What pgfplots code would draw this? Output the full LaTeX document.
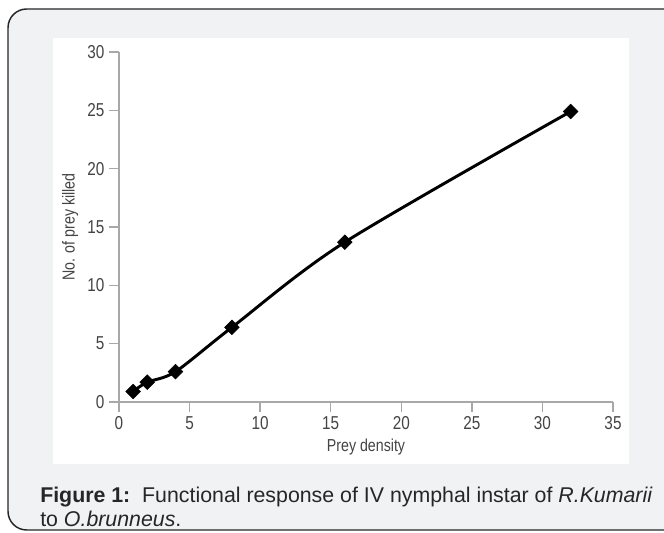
\documentclass[border=0pt]{standalone}
\usepackage{pgfplots}
\pgfplotsset{compat=1.18}
\usepackage{fontspec}
\setmainfont{Liberation Sans}
\newfontfamily\condfont[FakeStretch=0.82]{Liberation Sans}

\definecolor{panelgray}{HTML}{F1F2F4}
\definecolor{axisgray}{HTML}{A8A8A8}
\definecolor{labelgray}{HTML}{444444}

\begin{document}
\begin{tikzpicture}[x=0.75pt,y=0.75pt]
% frame of the figure box (1 unit = 1 px of the reference)
\path[use as bounding box] (0,0) rectangle (664,532);
\clip (0,0) rectangle (664,532);
\draw[fill=panelgray, draw=black!85, line width=1.1pt, rounded corners=14pt]
  (8,2) rectangle (690,523);
\fill[white] (53,68) rectangle (629,494);

\begin{axis}[
  at={(89.25pt,97.5pt)}, anchor=south west,
  scale only axis,
  width=370.5pt, height=262.5pt,
  xmin=0, xmax=35, ymin=0, ymax=30,
  xtick={0,5,...,35}, ytick={0,5,...,30},
  axis lines=left,
  axis line style={-, draw=axisgray, line width=1pt},
  tick style={draw=axisgray, line width=1pt},
  tick align=outside,
  major tick length=7.5pt,
  ticklabel style={font=\condfont\fontsize{14}{16}\selectfont, text=labelgray},
  /pgf/number format/assume math mode=true,
  xlabel={Prey density},
  ylabel={No. of prey killed},
  label style={font=\condfont\fontsize{13}{15}\selectfont, text=labelgray},
  clip=false,
]
\addplot[black, line width=2.2pt, smooth, mark=square*, mark size=3.9pt,
  mark options={solid, fill=black, rotate=45, line width=0.4pt}] coordinates {
  (1,0.9)(2,1.7)(4,2.6)(8,6.4)(16,13.7)(32,24.9)
};
\end{axis}

\node[anchor=north west, align=left, font=\fontsize{16}{18}\selectfont, text=black!85, inner sep=0pt]
  at (40,45) {\textbf{Figure 1:}\ \ Functional response of IV nymphal instar of \textit{R.Kumarii}\\
  to \textit{O.brunneus}.};
\end{tikzpicture}
\end{document}
